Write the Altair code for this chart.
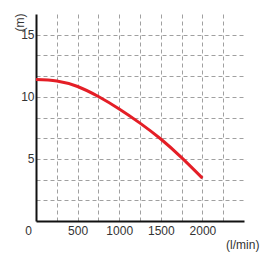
import altair as alt
import pandas as pd

flow = [0, 250, 500, 750, 1000, 1250, 1500, 1750, 2000]
head = [11.4, 11.28, 10.83, 10.02, 9.02, 7.88, 6.6, 5.1, 3.45]
x_grid = [250, 500, 750, 1000, 1250, 1500, 1750, 2000, 2250]
y_grid = [5 / 3 * i for i in range(1, 10)]

df = pd.DataFrame({"flow": flow, "head": head})

FONT = "Liberation Sans"
TXT = "#333333"

line = alt.Chart(df).mark_line(color="#e41e26", strokeWidth=3, interpolate="natural").encode(
    x=alt.X("flow:Q", scale=alt.Scale(domain=[0, 2500], nice=False, zero=True),
            axis=alt.Axis(values=x_grid, title=None, ticks=False, grid=True,
                          gridDash=[4, 3], gridColor="#a0a0a0", gridWidth=1,
                          domainColor="#111111", domainWidth=2,
                          labelExpr="datum.value % 500 == 0 ? datum.label : ''",
                          format="d", labelFont=FONT, labelFontSize=12,
                          labelColor=TXT, labelPadding=4, labelFlush=False)),
    y=alt.Y("head:Q", scale=alt.Scale(domain=[0, 50 / 3], nice=False, zero=True),
            axis=alt.Axis(values=y_grid, title=None, ticks=False, grid=True,
                          gridDash=[4, 3], gridColor="#a0a0a0", gridWidth=1,
                          domainColor="#111111", domainWidth=2,
                          labelExpr="abs(datum.value/5 - round(datum.value/5)) < 0.001 ? format(datum.value, '.0f') : ''",
                          labelFont=FONT, labelFontSize=12, labelColor=TXT,
                          labelPadding=2, labelFlush=False)),
)

zero = alt.Chart(pd.DataFrame({"t": ["0"]})).mark_text(
    font=FONT, fontSize=12, color=TXT, align="center", baseline="middle"
).encode(x=alt.value(-7.5), y=alt.value(216.5), text="t:N")

ytitle = alt.Chart(pd.DataFrame({"t": ["(m)"]})).mark_text(
    font=FONT, fontSize=12, color=TXT, align="center", baseline="middle", angle=270
).encode(x=alt.value(-16), y=alt.value(8.5), text="t:N")

xtitle = alt.Chart(pd.DataFrame({"t": ["(l/min)"]})).mark_text(
    font=FONT, fontSize=12, color=TXT, align="center", baseline="middle"
).encode(x=alt.value(206.7), y=alt.value(231), text="t:N")

chart = alt.layer(line, zero, ytitle, xtitle).properties(
    width=208, height=207,
    autosize=alt.AutoSizeParams(type="none"),
    padding={"left": 36, "top": 14, "right": 24, "bottom": 47},
    background="white",
).configure_view(stroke=None)

chart.save("out.html", embed_options={"renderer": "svg", "actions": False})
